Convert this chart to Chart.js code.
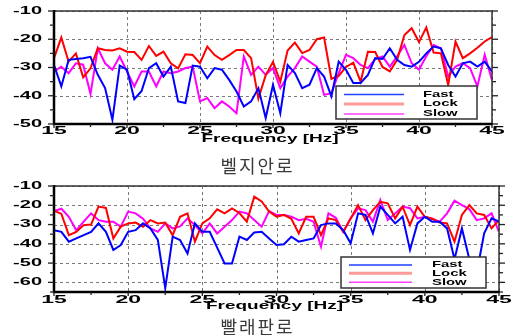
<!DOCTYPE html>
<html><head><meta charset="utf-8">
<script src="https://cdn.jsdelivr.net/npm/chart.js@4"></script>
<style>
html,body{margin:0;padding:0;background:#fff;width:511px;height:335px;overflow:hidden;position:relative;}
canvas{position:absolute;left:0;}
#c1{top:0}
#c2{top:175px}
.cap{position:absolute;left:2px;width:511px;text-align:center;font-family:"Noto Sans CJK KR";font-size:18px;line-height:20px;color:#3a3a3a;letter-spacing:2px;}
</style></head><body>
<canvas id="c1" width="511" height="150"></canvas>
<canvas id="c2" width="511" height="140"></canvas>
<div class="cap" style="top:155px">벨지안로</div>
<div class="cap" style="top:316px">빨래판로</div>
<script>
const freqs = [15,15.5,16,16.5,17,17.5,18,18.5,19,19.5,20,20.5,21,21.5,22,22.5,23,23.5,24,24.5,25,25.5,26,26.5,27,27.5,28,28.5,29,29.5,30,30.5,31,31.5,32,32.5,33,33.5,34,34.5,35,35.5,36,36.5,37,37.5,38,38.5,39,39.5,40,40.5,41,41.5,42,42.5,43,43.5,44,44.5,45];
const seriesNames = ["Fast","Lock","Slow"];
const xTickLabels = [15,20,25,30,35,40,45];
const yTickLabelsTop = [-10,-20,-30,-40,-50];
const yTickLabelsBottom = [-10,-20,-30,-40,-50,-60];
const axisTitle = "Frequency [Hz]";

const topFast = [-29.1,-36.7,-27.3,-27,-26.7,-26.2,-32.6,-37.3,-48.5,-29.3,
-30.8,-41.2,-38.3,-30.2,-28.5,-33.2,-29.7,-42,-42.6,-29.3,
-29.7,-33.8,-30.2,-30.8,-34.4,-38.5,-43.8,-42,-37.3,-47.9,
-36.1,-46.2,-29.1,-32,-37.3,-36.1,-30.2,-33.2,-40.2,-27.9,
-30.8,-35.5,-35.5,-32.6,-26.7,-27,-23.2,-27.3,-29.1,-29.7,
-28,-25,-22.6,-23.2,-29.1,-33.2,-28.5,-27.9,-29.7,-27.9,
-31.4];
const topLock = [-26.7,-19.4,-27.9,-25,-33.5,-30.3,-23.2,-23.8,-24,-23.2,
-24.4,-24.5,-27.3,-22.4,-25.9,-24.4,-28.5,-30.3,-25.3,-25.6,
-28.5,-22.6,-25.6,-27.3,-25.6,-23.8,-23.8,-26.7,-41,-32.7,
-28,-35,-24,-21.2,-24.9,-23.8,-20,-19.4,-34,-33,
-29.8,-28.3,-35,-24.4,-24.5,-29.8,-31.4,-27.3,-18.5,-16.1,
-21,-15.8,-24.7,-25,-36.2,-20.8,-26.7,-25,-23,-20.8,
-19.2];
const topSlow = [-31.4,-29.7,-32,-28.5,-29,-39.4,-23.2,-28.5,-30.8,-26.1,
-31.4,-36.7,-31.4,-31.4,-36.7,-31.4,-32,-31.4,-30.2,-29.7,
-42,-40.8,-44.4,-42,-43.8,-46.2,-26.1,-32.6,-29.7,-32.6,
-30.2,-37.3,-33.2,-30.2,-26.1,-27.9,-29.7,-39.7,-39.1,-32,
-25.5,-26.7,-29.1,-30.2,-27,-26.1,-29.7,-26,-22,-28.5,
-30.8,-26,-22,-23.2,-33.2,-29.7,-28.5,-30.2,-36.7,-25.5,
-34.5];

const botFast = [-32.9,-33.8,-38.9,-37.2,-35.5,-33.8,-29.4,-33.8,-43.2,-40.6,
-33.8,-32.9,-29.4,-32,-38,-63,-36.3,-38,-45,-29.4,
-33.8,-33.8,-42,-50.2,-50.2,-36.3,-38,-34.1,-33.8,-37.2,
-40.6,-40.2,-36.3,-38.9,-38,-37.2,-30.3,-29.4,-29.4,-32.9,
-39.7,-24.2,-25,-34.6,-20.7,-25,-29.4,-25.9,-43.2,-29.4,
-25.9,-28.5,-28.5,-32,-48,-32,-48,-55,-34.6,-26.8,
-28.5];
const botLock = [-22.8,-24.5,-35.5,-33.8,-30.3,-30,-20.7,-21.4,-37.2,-31.1,
-29.4,-29,-31.1,-27.7,-29.4,-29,-35.5,-26,-24.2,-38.9,
-29.4,-26.8,-22.1,-24.2,-21.6,-24,-28.5,-15.5,-18,-23.3,
-25.9,-25,-27,-34.6,-26,-26,-35.5,-26.8,-27.7,-33.8,
-26.8,-19.9,-27.7,-22.5,-18.2,-19,-26.8,-20.7,-30.3,-20.7,
-26,-27,-29,-29.4,-38.9,-25,-19.9,-24.2,-25,-32,
-27.7];
const botSlow = [-23,-21.8,-26,-33,-28.5,-24.2,-27.7,-28.5,-28.5,-31.1,
-23.3,-24.2,-27,-32,-33.8,-29.4,-32,-31,-26.8,-30.3,
-34.6,-29.4,-34.6,-31.1,-27.7,-23.3,-24.2,-27.7,-31.1,-23,
-25,-25,-25.9,-27.7,-27,-28.5,-41.5,-24.2,-26.5,-33.8,
-26.8,-21.6,-22.5,-28.5,-17.3,-27.7,-24.2,-20.7,-21.5,-26.8,
-26,-27,-28.5,-24.2,-17.6,-19.9,-22,-27.7,-26.8,-24.2,
-33.8];

const colors = ["#0000ff","#ff0000","#ff00ff"];
const legendColors = ["#2040ff","#ff9a9a","#ff40ff"];
const legendWidths = [1.5,3,1.5];

function stretchText(ctx, text, x, y, align, sx){
  ctx.save();
  ctx.translate(x, y);
  ctx.scale(sx, 1);
  ctx.textAlign = align;
  ctx.textBaseline = 'middle';
  ctx.fillText(text, 0, 0);
  ctx.restore();
}

const decor = {
  id: 'decor',
  beforeDatasetsDraw(chart, args, o) {
    const {ctx, chartArea: a, scales: {x, y}} = chart;
    ctx.save();
    ctx.strokeStyle = '#7a7a7a';
    ctx.lineWidth = 1;
    ctx.setLineDash([3, 3]);
    xTickLabels.forEach(v => {
      const p = Math.round(x.getPixelForValue(v)) + 0.5;
      ctx.beginPath(); ctx.moveTo(p, a.top); ctx.lineTo(p, a.bottom); ctx.stroke();
    });
    o.yTicks.forEach(v => {
      const p = Math.round(y.getPixelForValue(v)) + 0.5;
      ctx.beginPath(); ctx.moveTo(a.left, p); ctx.lineTo(a.right, p); ctx.stroke();
    });
    ctx.restore();
  },
  afterDraw(chart, args, o) {
    const {ctx, chartArea: a, scales: {x, y}} = chart;
    ctx.save();
    ctx.setLineDash([]);
    ctx.strokeStyle = '#333';
    ctx.lineWidth = 1.5;
    ctx.beginPath(); ctx.moveTo(a.left, a.top); ctx.lineTo(a.right, a.top); ctx.lineTo(a.right, a.bottom); ctx.stroke();
    ctx.strokeStyle = '#000';
    ctx.lineWidth = 2.5;
    ctx.beginPath(); ctx.moveTo(a.left, a.top - 1); ctx.lineTo(a.left, a.bottom); ctx.lineTo(a.right + 1, a.bottom); ctx.stroke();
    ctx.lineWidth = 1.3;
    ctx.strokeStyle = '#222';
    for (let v = o.yMax; v >= o.yMin; v -= 5) {
      const p = y.getPixelForValue(v);
      const L = (v % 10 === 0) ? 6 : 4;
      ctx.beginPath(); ctx.moveTo(a.left - L, p); ctx.lineTo(a.left, p); ctx.stroke();
      ctx.beginPath(); ctx.moveTo(a.right, p); ctx.lineTo(a.right + L, p); ctx.stroke();
    }
    for (let f = 15; f <= 45; f += 2.5) {
      const p = x.getPixelForValue(f);
      const L = (f % 5 === 0) ? 4 : 3;
      ctx.beginPath(); ctx.moveTo(p, a.bottom); ctx.lineTo(p, a.bottom + L); ctx.stroke();
    }
    ctx.fillStyle = '#000';
    ctx.font = 'bold 10px "Liberation Sans"';
    o.yTicks.forEach(v => stretchText(ctx, String(v), a.left - 12, y.getPixelForValue(v), 'right', 2.0));
    xTickLabels.forEach(v => stretchText(ctx, String(v), x.getPixelForValue(v), a.bottom + o.xLabelDy, 'center', 2.3));
    stretchText(ctx, axisTitle, (a.left + a.right) / 2 + o.titleDx, a.bottom + o.titleDy, 'center', 1.9);
    const L = o.legend;
    ctx.fillStyle = '#fff';
    ctx.fillRect(L.x, L.y, L.w, L.h);
    ctx.strokeStyle = '#333';
    ctx.lineWidth = 1.5;
    ctx.strokeRect(L.x, L.y, L.w, L.h);
    ctx.font = 'bold 9px "Liberation Sans"';
    seriesNames.forEach((n, i) => {
      const yy = L.y + L.rows[i];
      ctx.strokeStyle = legendColors[i];
      ctx.lineWidth = legendWidths[i];
      ctx.beginPath(); ctx.moveTo(L.x + 8, yy); ctx.lineTo(L.x + L.lineLen, yy); ctx.stroke();
      ctx.fillStyle = '#000';
      stretchText(ctx, n, L.x + L.textX, yy, 'left', 1.65);
    });
    ctx.restore();
  }
};

function build(id, vals, yMin, yMax, yTicks, pad, extra) {
  const datasets = vals.map((arr, i) => ({
    label: seriesNames[i],
    data: freqs.map((f, k) => ({x: f, y: arr[k]})),
    borderColor: colors[i],
    borderWidth: 2,
    pointRadius: 0,
    tension: 0,
    fill: false
  }));
  return new Chart(document.getElementById(id), {
    type: 'line',
    data: {datasets},
    options: {
      responsive: false,
      animation: false,
      devicePixelRatio: 1,
      layout: {padding: pad},
      plugins: {
        legend: {display: false},
        tooltip: {enabled: false},
        decor: Object.assign({yMin, yMax, yTicks}, extra)
      },
      scales: {
        x: {type: 'linear', min: 15, max: 45, display: false},
        y: {type: 'linear', min: yMin, max: yMax, display: false}
      }
    },
    plugins: [decor]
  });
}

build('c1', [topFast, topLock, topSlow], -50, -10, yTickLabelsTop,
  {left: 54, right: 19, top: 11, bottom: 26},
  {xLabelDy: 7.5, titleDy: 15, titleDx: -3,
   legend: {x: 336, y: 86, w: 141, h: 33, rows: [8.5, 18, 28], lineLen: 68, textX: 87}});
build('c2', [botFast, botLock, botSlow], -65, -10, yTickLabelsBottom,
  {left: 54, right: 12, top: 11, bottom: 23},
  {xLabelDy: 8, titleDy: 14, titleDx: -2,
   legend: {x: 341, y: 82, w: 145, h: 31, rows: [8, 16.3, 25.3], lineLen: 71, textX: 91}});
</script>
</body></html>
